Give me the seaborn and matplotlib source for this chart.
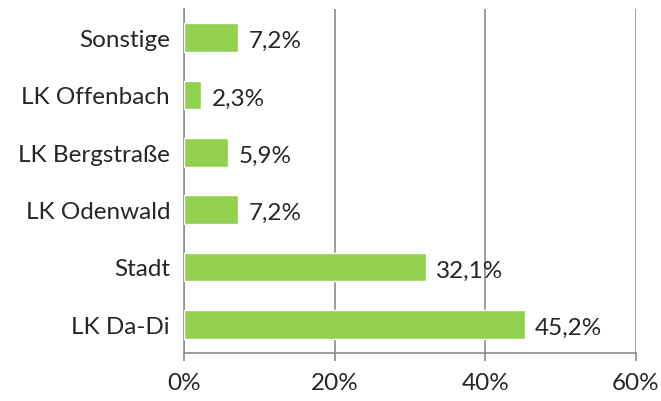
import matplotlib
matplotlib.use("Agg")
import matplotlib.pyplot as plt
import seaborn as sns
import pandas as pd
import numpy as np

categories = ["Sonstige", "LK Offenbach", "LK Bergstraße", "LK Odenwald", "Stadt", "LK Da-Di"]
values = [7.2, 2.3, 5.9, 7.2, 32.1, 45.2]
xticks = [0, 20, 40, 60]
xticklabels = ["0%", "20%", "40%", "60%"]

sns.set_style("white")
plt.rcParams['font.family'] = ['Lato', 'DejaVu Sans']
FS = 17.5

df = pd.DataFrame({"cat": categories, "val": values})
fig = plt.figure(figsize=(6.61, 4.02), dpi=100)
ax = fig.add_axes([184/661, 1-354/402, (636-184)/661, (354-10)/402])
sns.barplot(data=df, y="cat", x="val", color="#92D050", saturation=1, width=0.5, ax=ax, orient="h", zorder=3)

ax.set_xlim(0, 60)
ax.set_ylim(len(categories)-0.5, -0.5)
ax.set_xticks(xticks)
ax.set_xticklabels(xticklabels, fontsize=FS)
ax.set_xlabel("")
ax.set_ylabel("")
ax.tick_params(axis="y", length=0, labelsize=FS, pad=10)
ax.set_yticks(np.arange(-0.5, len(categories), 1), minor=True)
ax.tick_params(axis="y", which="minor", length=7, width=1.2, color="#8c8c8c")
ax.tick_params(axis="x", length=6, width=1.2, color="#8c8c8c", pad=8, direction="out")
ax.xaxis.set_tick_params(bottom=True)
ax.grid(axis="x", color="#8c8c8c", linewidth=1.2, zorder=0)
ax.set_axisbelow(True)
for s in ["top", "right"]:
    ax.spines[s].set_visible(False)
for s in ["left", "bottom"]:
    ax.spines[s].set_color("#8c8c8c")
    ax.spines[s].set_linewidth(1.2)

for i, v in enumerate(values):
    ax.text(v + 1.4, i + 0.05, f"{v:.1f}%".replace(".", ","), va="center", ha="left", fontsize=FS, zorder=4)

fig.savefig("out.png", dpi=100)
